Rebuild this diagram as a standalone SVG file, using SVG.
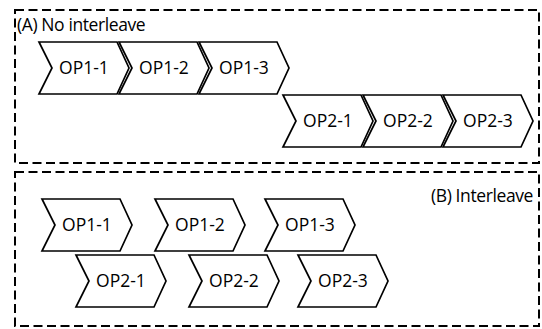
<svg xmlns="http://www.w3.org/2000/svg" width="542" height="329" viewBox="0 0 542 329">
<style>
.frame{fill:none;stroke:#000;stroke-width:2;stroke-dasharray:9 4.5}
.chev{fill:#fff;stroke:#000;stroke-width:1.7;stroke-linejoin:miter}
.lbl{font-family:"Open Sans","Liberation Sans",sans-serif;font-size:17.5px;fill:#000;text-anchor:middle}
.title{font-family:"Open Sans","Liberation Sans",sans-serif;font-size:17.5px;fill:#000}
</style>
<defs>
<path id="chev" d="M0,0 H78 L90,26 L78,52 H0 L13,26 Z"/>
</defs>
<g id="frameA">
<rect class="frame" x="15" y="10" width="524" height="153"/>
<text class="title" x="17" y="31" letter-spacing="-0.4">(A) No interleave</text>
</g>
<g id="frameB">
<rect class="frame" x="15" y="172" width="524" height="154"/>
<text class="title" x="533" y="202" text-anchor="end" letter-spacing="-0.4">(B) Interleave</text>
</g>
<g id="connectors"></g>
<g id="a-op1-1"><use href="#chev" class="chev" x="39" y="42"/><text class="lbl" x="84" y="74">OP1-1</text></g>
<g id="a-op1-2"><use href="#chev" class="chev" x="119" y="42"/><text class="lbl" x="164" y="74">OP1-2</text></g>
<g id="a-op1-3"><use href="#chev" class="chev" x="199" y="42"/><text class="lbl" x="244" y="74">OP1-3</text></g>
<g id="a-op2-1"><use href="#chev" class="chev" x="283" y="95"/><text class="lbl" x="328" y="127">OP2-1</text></g>
<g id="a-op2-2"><use href="#chev" class="chev" x="363" y="95"/><text class="lbl" x="408" y="127">OP2-2</text></g>
<g id="a-op2-3"><use href="#chev" class="chev" x="443" y="95"/><text class="lbl" x="488" y="127">OP2-3</text></g>
<g id="b-op1-1"><use href="#chev" class="chev" x="42" y="199"/><text class="lbl" x="87" y="231">OP1-1</text></g>
<g id="b-op1-2"><use href="#chev" class="chev" x="155" y="199"/><text class="lbl" x="200" y="231">OP1-2</text></g>
<g id="b-op1-3"><use href="#chev" class="chev" x="265" y="199"/><text class="lbl" x="310" y="231">OP1-3</text></g>
<g id="b-op2-1"><use href="#chev" class="chev" x="76" y="255"/><text class="lbl" x="121" y="287">OP2-1</text></g>
<g id="b-op2-2"><use href="#chev" class="chev" x="189" y="255"/><text class="lbl" x="234" y="287">OP2-2</text></g>
<g id="b-op2-3"><use href="#chev" class="chev" x="298" y="255"/><text class="lbl" x="343" y="287">OP2-3</text></g>
</svg>
